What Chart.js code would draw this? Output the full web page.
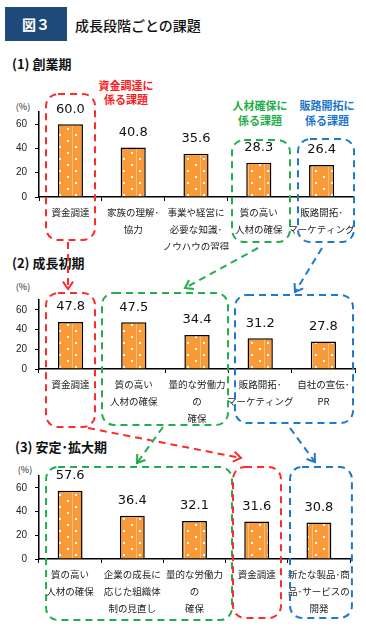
<!DOCTYPE html>
<html>
<head>
<meta charset="utf-8">
<script src="https://cdn.jsdelivr.net/npm/chart.js@4.4.1/dist/chart.umd.min.js"></script>
<style>
  body { margin: 0; background: #fff; width: 366px; height: 633px; position: relative; overflow: hidden;
         font-family: "Noto Sans CJK JP", sans-serif; color: #111; }
  .abs { position: absolute; white-space: nowrap; }
  .ctr { transform: translateX(-50%); text-align: center; }
  .sec { font-size: 13px; font-weight: bold; line-height: 18px; }
  .pct { font-size: 9px; line-height: 12px; color: #222; }
  .tag { font-size: 11px; font-weight: bold; }
  canvas { position: absolute; left: 0; }
</style>
</head>
<body>
<div class="abs" style="left:5px;top:7px;width:62px;height:34px;background:#1F4A7C;color:#fff;font-weight:bold;font-size:14px;line-height:34px;text-align:center;">図３</div>
<div class="abs" style="left:75px;top:15px;font-size:14px;font-weight:500;line-height:20px;">成長段階ごとの課題</div>

<div class="abs sec" style="left:12px;top:55px;">(1) 創業期</div>
<div class="abs sec" style="left:12px;top:254px;">(2) 成長初期</div>
<div class="abs sec" style="left:15px;top:438px;">(3) 安定･拡大期</div>

<div class="abs tag ctr" style="left:126px;top:78px;line-height:14px;color:#FF1A1A;">資金調達に<br>係る課題</div>
<div class="abs tag ctr" style="left:260px;top:98px;line-height:15px;color:#1FAE48;">人材確保に<br>係る課題</div>
<div class="abs tag ctr" style="left:327px;top:98px;line-height:14.5px;color:#1C75C8;">販路開拓に<br>係る課題</div>

<div class="abs pct ctr" style="left:23px;top:101px;">(%)</div>
<div class="abs pct ctr" style="left:23px;top:281px;">(%)</div>
<div class="abs pct ctr" style="left:25px;top:464px;">(%)</div>

<canvas id="c1" width="366" height="172" style="top:78px"></canvas>
<canvas id="c2" width="366" height="145" style="top:286px"></canvas>
<canvas id="c3" width="366" height="163" style="top:462px"></canvas>
<canvas id="arrows" width="366" height="633" style="top:0;pointer-events:none"></canvas>

<script>
// data (%)
const stage1Labels = ['資金調達', '家族の理解･\n協力', '事業や経営に\n必要な知識･\nノウハウの習得', '質の高い\n人材の確保', '販路開拓･\nマーケティング'];
const stage1Values = [60.0, 40.8, 35.6, 28.3, 26.4];

const stage2Labels = ['資金調達', '質の高い\n人材の確保', '量的な労働力\nの\n確保', '販路開拓･\nマーケティング', '自社の宣伝･\nPR'];
const stage2Values = [47.8, 47.5, 34.4, 31.2, 27.8];

const stage3Labels = ['質の高い\n人材の確保', '企業の成長に\n応じた組織体\n制の見直し', '量的な労働力\nの\n確保', '資金調達', '新たな製品･商\n品･サービスの\n開発'];
const stage3Values = [57.6, 36.4, 32.1, 31.6, 30.8];

const yTicks = [0, 20, 40, 60];

const RED = '#FF2A2A', GREEN = '#22AE4C', BLUE = '#1E78CC';

// orange bar fill with white dots
function barPattern() {
  const t = document.createElement('canvas');
  t.width = 16; t.height = 12;
  const g = t.getContext('2d');
  g.fillStyle = '#F99A38';
  g.fillRect(0, 0, 16, 12);
  g.fillStyle = 'rgba(255,255,255,0.35)';
  g.fillRect(8, 0, 1, 12);
  g.fillStyle = '#fff';
  g.fillRect(3, 2, 2, 2);
  g.fillRect(11, 8, 2, 2);
  return g.createPattern(t, 'repeat');
}

// value labels above bars
const valueLabels = {
  id: 'valueLabels',
  afterDatasetsDraw(chart) {
    const ctx = chart.ctx;
    const meta = chart.getDatasetMeta(0);
    ctx.save();
    ctx.font = '13px "DejaVu Sans"';
    ctx.fillStyle = '#111';
    ctx.textAlign = 'center';
    ctx.textBaseline = 'middle';
    meta.data.forEach((bar, i) => {
      ctx.fillText(chart.data.datasets[0].data[i].toFixed(1), bar.x, bar.y - 15);
    });
    ctx.restore();
  }
};

// dashed rounded frames around groups of categories
const groupBoxes = {
  id: 'groupBoxes',
  afterDraw(chart, args, opts) {
    const ctx = chart.ctx;
    const x = chart.scales.x;
    ctx.save();
    ctx.lineWidth = 2;
    ctx.setLineDash([7, 5]);
    (opts.boxes || []).forEach(b => {
      const l = x.getPixelForValue(b.from) + b.dl;
      const r = x.getPixelForValue(b.to) + b.dr;
      ctx.strokeStyle = b.color;
      ctx.beginPath();
      ctx.roundRect(l, b.top, r - l, b.bottom - b.top, 12);
      ctx.stroke();
    });
    ctx.restore();
  }
};

function makeChart(id, labels, values, o) {
  return new Chart(document.getElementById(id), {
    type: 'bar',
    data: {
      labels: labels.map(s => s.split('\n')),
      datasets: [{
        data: values,
        backgroundColor: barPattern(),
        borderColor: '#000',
        borderWidth: 1.5,
        barPercentage: 0.4,
        categoryPercentage: 1
      }]
    },
    options: {
      responsive: false,
      animation: false,
      devicePixelRatio: 1,
      layout: { padding: { top: o.top, right: o.right, left: 0, bottom: 0 } },
      plugins: { legend: { display: false }, tooltip: { enabled: false }, groupBoxes: { boxes: o.boxes } },
      scales: {
        x: {
          grid: { offset: true, drawOnChartArea: false, color: '#000', tickLength: 4 },
          border: { color: '#000', width: 1.5 },
          ticks: { autoSkip: false, maxRotation: 0, padding: 3, color: '#222',
                   font: { family: 'Noto Sans CJK JP', size: 9.5, lineHeight: '17px' } },
          afterFit: s => { s.height = o.xh; }
        },
        y: {
          min: 0, max: 70,
          grid: { drawOnChartArea: false, color: '#000', tickLength: 4 },
          border: { color: '#000', width: 1.5 },
          ticks: { stepSize: 20, padding: 8, color: '#222', font: { family: 'Liberation Sans', size: 10 } },
          afterBuildTicks: s => { s.ticks = yTicks.map(v => ({ value: v })); },
          afterFit: s => { s.width = 39; }
        }
      }
    },
    plugins: [valueLabels, groupBoxes]
  });
}

makeChart('c1', stage1Labels, stage1Values, {
  top: 34, right: 13, xh: 53,
  boxes: [
    { color: RED, from: 0, to: 0, dl: -24.4, dr: 24.6, top: 16, bottom: 162 },
    { color: GREEN, from: 3, to: 3, dl: -26.8, dr: 31.2, top: 62, bottom: 164 },
    { color: BLUE, from: 4, to: 4, dl: -23.6, dr: 32.4, top: 61, bottom: 164 }
  ]
});

makeChart('c2', stage2Labels, stage2Values, {
  top: 7, right: 11, xh: 62,
  boxes: [
    { color: RED, from: 0, to: 0, dl: -24.6, dr: 24.4, top: 7, bottom: 141 },
    { color: GREEN, from: 1, to: 2, dl: -31.8, dr: 31, top: 7, bottom: 139 },
    { color: BLUE, from: 3, to: 4, dl: -25.2, dr: 29.6, top: 9, bottom: 137 }
  ]
});

makeChart('c3', stage3Labels, stage3Values, {
  top: 13, right: 16, xh: 66,
  boxes: [
    { color: GREEN, from: 0, to: 2, dl: -24, dr: 37.5, top: 5, bottom: 158 },
    { color: RED, from: 3, to: 3, dl: -23.7, dr: 24.3, top: 5, bottom: 156 },
    { color: BLUE, from: 4, to: 4, dl: -28.9, dr: 33, top: 5, bottom: 156 }
  ]
});

// dashed arrows linking the stages
const arrowList = [
  [RED, 68, 242, 68, 289],
  [GREEN, 258, 248, 185, 288],
  [BLUE, 322, 248, 295, 292],
  [RED, 88, 428, 241, 458],
  [GREEN, 163, 427, 137, 463],
  [BLUE, 290, 428, 315, 462]
];
const actx = document.getElementById('arrows').getContext('2d');
actx.lineWidth = 2;
arrowList.forEach(([c, x1, y1, x2, y2]) => {
  actx.strokeStyle = c;
  actx.setLineDash([7, 5]);
  actx.beginPath();
  actx.moveTo(x1, y1);
  actx.lineTo(x2, y2);
  actx.stroke();
  const a = Math.atan2(y2 - y1, x2 - x1);
  actx.setLineDash([]);
  actx.beginPath();
  actx.moveTo(x2 - 9 * Math.cos(a - 0.6), y2 - 9 * Math.sin(a - 0.6));
  actx.lineTo(x2, y2);
  actx.lineTo(x2 - 9 * Math.cos(a + 0.6), y2 - 9 * Math.sin(a + 0.6));
  actx.stroke();
});
</script>
</body>
</html>
